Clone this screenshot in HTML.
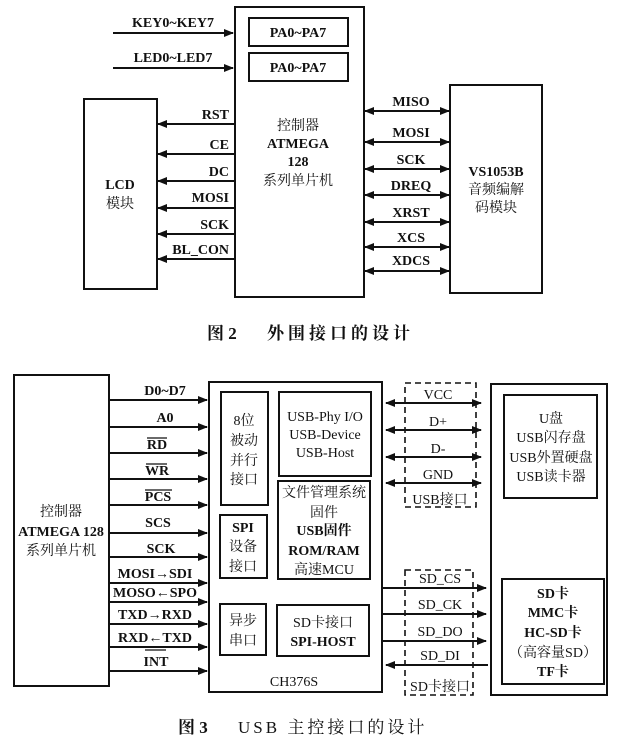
<!DOCTYPE html>
<html><head><meta charset="utf-8"><style>
html,body{margin:0;padding:0;background:#fff;}
svg{display:block;}
text{font-family:"Liberation Serif","Noto Serif CJK SC",serif;font-size:14px;font-weight:bold;fill:#111;}
.c{text-anchor:middle;}
.n{font-weight:normal;}
</style></head><body>
<svg width="617" height="740" viewBox="0 0 617 740" xmlns="http://www.w3.org/2000/svg">
<defs>
<marker id="a" markerWidth="10" markerHeight="8" refX="9" refY="4" orient="auto-start-reverse" markerUnits="userSpaceOnUse"><path d="M0,0 L10,4 L0,8 Z" fill="#111"/></marker>
</defs>
<g stroke="#111" stroke-width="2" fill="none">
<!-- Fig 2 -->
<rect x="235" y="7" width="129" height="290"/>
<rect x="249" y="18" width="99" height="28"/>
<rect x="249" y="53" width="99" height="28"/>
<rect x="84" y="99" width="73" height="190"/>
<rect x="450" y="85" width="92" height="208"/>
<line x1="113" y1="33" x2="233" y2="33" marker-end="url(#a)"/>
<line x1="113" y1="68" x2="233" y2="68" marker-end="url(#a)"/>
<line x1="234" y1="124" x2="158" y2="124" marker-end="url(#a)"/>
<line x1="234" y1="154" x2="158" y2="154" marker-end="url(#a)"/>
<line x1="234" y1="181" x2="158" y2="181" marker-end="url(#a)"/>
<line x1="234" y1="208" x2="158" y2="208" marker-end="url(#a)"/>
<line x1="234" y1="234" x2="158" y2="234" marker-end="url(#a)"/>
<line x1="234" y1="259" x2="158" y2="259" marker-end="url(#a)"/>
<line x1="365" y1="111" x2="449" y2="111" marker-start="url(#a)" marker-end="url(#a)"/>
<line x1="365" y1="142" x2="449" y2="142" marker-start="url(#a)" marker-end="url(#a)"/>
<line x1="365" y1="169" x2="449" y2="169" marker-start="url(#a)" marker-end="url(#a)"/>
<line x1="365" y1="195" x2="449" y2="195" marker-start="url(#a)" marker-end="url(#a)"/>
<line x1="365" y1="222" x2="449" y2="222" marker-start="url(#a)" marker-end="url(#a)"/>
<line x1="365" y1="247" x2="449" y2="247" marker-start="url(#a)" marker-end="url(#a)"/>
<line x1="365" y1="271" x2="449" y2="271" marker-start="url(#a)" marker-end="url(#a)"/>
<!-- Fig 3 -->
<rect x="14" y="375" width="95" height="311"/>
<rect x="209" y="382" width="173" height="310"/>
<rect x="221" y="392" width="47" height="113"/>
<rect x="220" y="515" width="47" height="63"/>
<rect x="220" y="604" width="46" height="51"/>
<rect x="279" y="392" width="92" height="84"/>
<rect x="278" y="481" width="92" height="98"/>
<rect x="277" y="605" width="92" height="51"/>
<rect x="491" y="384" width="116" height="311"/>
<rect x="504" y="395" width="93" height="103"/>
<rect x="502" y="579" width="102" height="105"/>
<g stroke-dasharray="6,4" stroke-width="1.6">
<rect x="405" y="383" width="71" height="124"/>
<rect x="405" y="570" width="68" height="125"/>
</g>
<line x1="110" y1="400" x2="207" y2="400" marker-end="url(#a)"/>
<line x1="110" y1="427" x2="207" y2="427" marker-end="url(#a)"/>
<line x1="110" y1="453" x2="207" y2="453" marker-end="url(#a)"/>
<line x1="110" y1="479" x2="207" y2="479" marker-end="url(#a)"/>
<line x1="110" y1="505" x2="207" y2="505" marker-end="url(#a)"/>
<line x1="110" y1="533" x2="207" y2="533" marker-end="url(#a)"/>
<line x1="110" y1="557" x2="207" y2="557" marker-end="url(#a)"/>
<line x1="110" y1="583" x2="207" y2="583" marker-end="url(#a)"/>
<line x1="110" y1="602" x2="207" y2="602" marker-end="url(#a)"/>
<line x1="110" y1="624" x2="207" y2="624" marker-end="url(#a)"/>
<line x1="110" y1="647" x2="207" y2="647" marker-end="url(#a)"/>
<line x1="110" y1="671" x2="207" y2="671" marker-end="url(#a)"/>
<line x1="386" y1="403" x2="481" y2="403" marker-start="url(#a)" marker-end="url(#a)"/>
<line x1="386" y1="430" x2="481" y2="430" marker-start="url(#a)" marker-end="url(#a)"/>
<line x1="386" y1="457" x2="481" y2="457" marker-start="url(#a)" marker-end="url(#a)"/>
<line x1="386" y1="483" x2="481" y2="483" marker-start="url(#a)" marker-end="url(#a)"/>
<line x1="383" y1="588" x2="486" y2="588" marker-end="url(#a)"/>
<line x1="383" y1="614" x2="486" y2="614" marker-end="url(#a)"/>
<line x1="383" y1="641" x2="486" y2="641" marker-end="url(#a)"/>
<line x1="488" y1="665" x2="386" y2="665" marker-end="url(#a)"/>
<!-- overlines -->
<g stroke-width="1.3">
<line x1="147" y1="438" x2="167" y2="438"/>
<line x1="146" y1="464" x2="167" y2="464"/>
<line x1="145" y1="490" x2="172" y2="490"/>
<line x1="145" y1="650" x2="166" y2="650"/>
</g>
</g>
<!-- Fig2 text -->
<text x="173" y="27" class="c">KEY0~KEY7</text>
<text x="173" y="62" class="c">LED0~LED7</text>
<text x="298" y="37" class="c">PA0~PA7</text>
<text x="298" y="72" class="c">PA0~PA7</text>
<text x="229" y="119" text-anchor="end">RST</text>
<text x="229" y="149" text-anchor="end">CE</text>
<text x="229" y="176" text-anchor="end">DC</text>
<text x="229" y="202" text-anchor="end">MOSI</text>
<text x="229" y="229" text-anchor="end">SCK</text>
<text x="229" y="254" text-anchor="end">BL_CON</text>
<text x="411" y="106" class="c">MISO</text>
<text x="411" y="137" class="c">MOSI</text>
<text x="411" y="164" class="c">SCK</text>
<text x="411" y="190" class="c">DREQ</text>
<text x="411" y="217" class="c">XRST</text>
<text x="411" y="242" class="c">XCS</text>
<text x="411" y="265" class="c">XDCS</text>
<text x="120" y="189" class="c">LCD</text>
<text x="120" y="208" class="c n">模块</text>
<text x="298" y="130" class="c n">控制器</text>
<text x="298" y="148" class="c">ATMEGA</text>
<text x="298" y="166" class="c">128</text>
<text x="298" y="185" class="c n">系列单片机</text>
<text x="496" y="176" class="c">VS1053B</text>
<text x="496" y="194" class="c n">音频编解</text>
<text x="496" y="212" class="c n">码模块</text>
<text x="207" y="339" style="font-size:17px">图 2</text>
<text x="267" y="339" style="font-size:17px;letter-spacing:4px">外围接口的设计</text>
<!-- Fig3 text -->
<text x="61" y="516" class="c n">控制器</text>
<text x="61" y="536" class="c">ATMEGA 128</text>
<text x="61" y="555" class="c n">系列单片机</text>
<text x="165" y="395" class="c">D0~D7</text>
<text x="165" y="422" class="c">A0</text>
<text x="157" y="449" class="c">RD</text>
<text x="157" y="475" class="c">WR</text>
<text x="158" y="501" class="c">PCS</text>
<text x="158" y="527" class="c">SCS</text>
<text x="161" y="553" class="c">SCK</text>
<text x="155" y="578" class="c">MOSI→SDI</text>
<text x="155" y="597" class="c">MOSO←SPO</text>
<text x="155" y="619" class="c">TXD→RXD</text>
<text x="155" y="642" class="c">RXD←TXD</text>
<text x="156" y="666" class="c">INT</text>
<text x="244" y="425" class="c n">8位</text>
<text x="244" y="445" class="c n">被动</text>
<text x="244" y="465" class="c n">并行</text>
<text x="244" y="484" class="c n">接口</text>
<text x="243" y="532" class="c">SPI</text>
<text x="243" y="551" class="c n">设备</text>
<text x="243" y="571" class="c n">接口</text>
<text x="243" y="625" class="c n">异步</text>
<text x="243" y="645" class="c n">串口</text>
<text x="325" y="421" class="c n">USB-Phy I/O</text>
<text x="325" y="439" class="c n">USB-Device</text>
<text x="325" y="457" class="c n">USB-Host</text>
<text x="324" y="497" class="c n">文件管理系统</text>
<text x="324" y="517" class="c n">固件</text>
<text x="324" y="535" class="c">USB固件</text>
<text x="324" y="555" class="c">ROM/RAM</text>
<text x="324" y="574" class="c n">高速MCU</text>
<text x="323" y="627" class="c n">SD卡接口</text>
<text x="323" y="646" class="c">SPI-HOST</text>
<text x="294" y="686" class="c n">CH376S</text>
<text x="438" y="399" class="c n">VCC</text>
<text x="438" y="426" class="c n">D+</text>
<text x="438" y="453" class="c n">D-</text>
<text x="438" y="479" class="c n">GND</text>
<text x="440" y="504" class="c n">USB接口</text>
<text x="440" y="583" class="c n">SD_CS</text>
<text x="440" y="609" class="c n">SD_CK</text>
<text x="440" y="636" class="c n">SD_DO</text>
<text x="440" y="660" class="c n">SD_DI</text>
<text x="440" y="691" class="c n">SD卡接口</text>
<text x="551" y="423" class="c n">U盘</text>
<text x="551" y="442" class="c n">USB闪存盘</text>
<text x="551" y="462" class="c n">USB外置硬盘</text>
<text x="551" y="481" class="c n">USB读卡器</text>
<text x="553" y="598" class="c">SD卡</text>
<text x="553" y="617" class="c">MMC卡</text>
<text x="553" y="637" class="c">HC-SD卡</text>
<text x="553" y="657" class="c n">（高容量SD）</text>
<text x="553" y="676" class="c">TF卡</text>
<text x="178" y="733" style="font-size:17px">图 3</text>
<text x="238" y="733" style="font-size:17px;font-weight:normal;letter-spacing:3px">USB 主控接口的设计</text>
</svg>
</body></html>
